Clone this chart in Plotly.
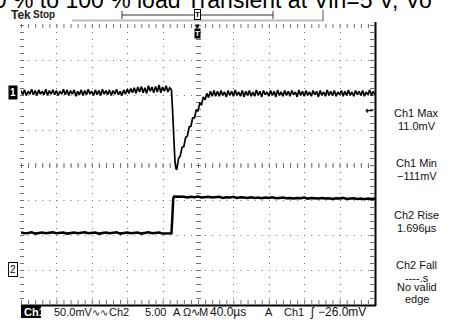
import numpy as np
import plotly.graph_objects as go

W, H = 451, 320
L, R, T, B = 21, 375, 25, 305  # graticule in pixels

# ---------------- data ----------------
# Ch1 (mV), 50 mV/div ; Ch2 (A), 5 A/div ; time in us, 40 us/div
ch1_pre = [2, -4, 3, -5, 1, -3, 4, -4, 2, -5, 3, -3, 1, -4, 4, -5, 2, -3, 3, -4, 2,
           -5, 1, -3, 4, -4, 3, -5, 2, -3, 3, -6, 1, -4, 3, -5, 2, -4, 4, -3, 1,
           -5, 3, -4, 2, -5, 4, -3, 2, -4, 3, -5, 2, -3, 4, -4, 1, -5, 3, -3, 4,
           -2, 5, -1, 6, -2, 7, 0, 8, -1, 6, -2, 9, 1, 7, -1, 8, 0, 10, -1, 7, 1, 9, 0, 6]
ch1_edge_t = [170, 171, 172, 173, 174, 175, 176]
ch1_edge = [3, -20, -50, -80, -100, -109, -111]
ch1_rec = [-95, -91, -79, -78, -65, -63, -50, -49, -37, -37, -26, -27, -16, -18,
           -7, -11, -2, -8, 1, -6, 2, -6]
ch1_post = [1, -6, 2, -5, 0, -7, 2, -5, 1, -6, 3, -5, 0, -6, 2, -7, 1, -5, 2, -6,
            0, -6, 3, -5, 1, -7, 2, -4, 0, -6, 2, -5, 1, -7, 3, -5, 0, -6, 2, -5,
            1, -6, 2, -4, 0, -7, 3, -5, 1, -6, 2, -5, 0, -6, 2, -4, 1, -7, 2, -5,
            0, -6, 3, -5, 1, -5, 2, -6, 0, -4, 2, -6, 1, -5, 3, -5, 0, -6, 2, -4,
            1, -5, 2, -6, 0, -4, 3, -5, 1, -4]

ch2_pre = [5.35, 5.25, 5.3, 5.4, 5.2, 5.3, 5.35, 5.25, 5.3, 5.4, 5.25, 5.3, 5.35, 5.2,
           5.3, 5.35, 5.25, 5.3, 5.4, 5.25, 5.3, 5.35, 5.2, 5.3, 5.35, 5.25, 5.3, 5.4,
           5.2, 5.3, 5.35, 5.25, 5.3, 5.35, 5.2, 5.3, 5.4, 5.25, 5.3, 5.35, 5.2, 5.25, 5.2]
ch2_edge_t = [170, 171, 172, 173]
ch2_edge = [5.25, 7.5, 10.2, 10.5]
ch2_post = [10.5, 10.4, 10.45, 10.35, 10.45, 10.4, 10.5, 10.35, 10.4, 10.45,
            10.35, 10.4, 10.45, 10.3, 10.4, 10.35, 10.45, 10.3, 10.4, 10.35,
            10.3, 10.4, 10.3, 10.35, 10.25, 10.35, 10.3, 10.4, 10.25, 10.3,
            10.35, 10.25, 10.3, 10.2, 10.3, 10.25, 10.35, 10.2, 10.3, 10.25,
            10.2, 10.3, 10.2, 10.25, 10.15, 10.25, 10.2, 10.3, 10.15, 10.2,
            10.25, 10.15, 10.2, 10.1, 10.2, 10.15, 10.2]

t1 = (list(np.linspace(0, 168, len(ch1_pre))) + ch1_edge_t +
      list(np.linspace(178, 220, len(ch1_rec))) + list(np.linspace(222, 400, len(ch1_post))))
v1 = ch1_pre + ch1_edge + ch1_rec + ch1_post
t2 = list(np.linspace(0, 168, len(ch2_pre))) + ch2_edge_t + list(np.linspace(176, 400, len(ch2_post)))
v2 = ch2_pre + ch2_edge + ch2_post

title_text = "50 % to 100 % load Transient at Vin=5 V, Vo"
meas = [("Ch1 Max", "11.0mV"), ("Ch1 Min", "\u2212111mV"), ("Ch2 Rise", "1.696\u00b5s"),
        ("Ch2 Fall", "----.s")]

# ---------------- helpers (pixel -> paper) ----------------
def px(x):
    return (x - L) / (R - L)

def py(y):
    return (B - y) / (B - T)

fig = go.Figure()
fig.add_trace(go.Scatter(x=t1, y=v1, mode="lines", line=dict(color="black", width=1.7),
                         yaxis="y", hoverinfo="skip"))
fig.add_trace(go.Scatter(x=t2, y=v2, mode="lines", line=dict(color="black", width=2.5),
                         yaxis="y2", hoverinfo="skip"))

shapes = []
GRID = "#707070"
def seg(x0, y0, x1, y1, color, width, dash="solid", layer="below"):
    shapes.append(dict(type="line", xref="paper", yref="paper", x0=px(x0), x1=px(x1),
                       y0=py(y0), y1=py(y1), line=dict(color=color, width=width, dash=dash),
                       layer=layer))

DX = (R - L) / 50.0
DY = (B - T) / 40.0
dash_v = "1px,%.3fpx" % (DY - 1)
dash_h = "1px,%.3fpx" % (DX - 1)
# dotted graticule lines (aligned to pixel centres)
for i in range(1, 10):
    xx = round(L + i * (R - L) / 10) + 0.5
    seg(xx, T, xx, B, GRID, 1, dash_v)
for j in range(1, 8):
    yy = round(T + j * (B - T) / 8) + 0.5
    seg(L, yy, R, yy, GRID, 1, dash_h)
# center cross minor ticks
cx, cy = round(L + (R - L) / 2) + 0.5, round(T + (B - T) / 2) + 0.5
seg(L, cy, R, cy, GRID, 5, dash_h)
seg(cx, T, cx, B, GRID, 5, dash_v)
# edge ticks
seg(L, T + 1, R, T + 1, GRID, 4, dash_h)
seg(L, B - 3, R, B - 3, GRID, 4, dash_h)
seg(L + 1, T, L + 1, B, GRID, 4, dash_v)
seg(R - 3, T, R - 3, B, GRID, 4, dash_v)
# solid right / bottom borders
seg(R + 0.5, T - 3, R + 0.5, B + 1, "black", 2, layer="above")
seg(L, B + 0.5, R + 1, B + 0.5, "black", 2, layer="above")
# top record bar
seg(72, 20.5, 323, 20.5, "#bdbdbd", 2)
seg(122, 15, 273, 15, "#333", 1)
seg(122, 11, 122, 19, "#333", 1)
seg(273, 11, 273, 19, "#333", 1)
seg(323, 10, 323, 21, "#555", 1)
# status-bar Ch1 box
shapes.append(dict(type="rect", xref="paper", yref="paper", x0=px(21), x1=px(41), y0=py(306), y1=py(318),
                   fillcolor="black", line=dict(width=0)))
fig.update_layout(shapes=shapes)

ann = []
F = "Liberation Sans, Arial, sans-serif"
def text(t, x, y, size, color="#222", xa="center", ya="middle", family=F, **kw):
    ann.append(dict(text=t, x=px(x), y=py(y), xref="paper", yref="paper", xanchor=xa,
                    yanchor=ya, showarrow=False, font=dict(family=family, size=size, color=color), **kw))

text(title_text, -21, 15, 23, "black", xa="left", ya="bottom")
text("<b>Tek</b>", 9, 15, 12, xa="left")
text("<b>Stop</b>", 31, 15, 10, xa="left")
# trigger position markers
text("<b>T</b>", 197, 15, 8, "black", bordercolor="black", borderwidth=1, borderpad=0, bgcolor="white")
text("\u25bc", 197, 27, 8, "black")
text("<b>T</b>", 197, 33, 8, "white", bgcolor="black", borderpad=0)
# channel markers
text("<b>1</b>", 13, 92, 10, "white", bgcolor="black", borderpad=1)
text("2", 13, 269, 10, "black", bgcolor="white", bordercolor="black", borderwidth=1, borderpad=1)
text("<b>\u2190</b>", 375, 110, 10, "black", xa="right", family="DejaVu Sans")
# measurements
ys = [113, 163, 215, 265]
for (a, b), yy in zip(meas, ys):
    text(a, 417, yy, 11, "#111")
    text(b, 417, yy + 13, 11, "#111")
text("No valid", 417, 287, 11, "#111")
text("edge", 417, 299, 11, "#111")
# status bar
status = [(22, "<b>Ch1</b>", "white", 11), (52, "50.0mV", "#111", 11), (90, "\u223f\u223f", "#111", 10),
          (107, "Ch2", "#111", 11), (143, "5.00", "#111", 11), (171, "A", "#111", 11),
          (181, "\u03a9\u223f", "#111", 11), (197, "M", "#111", 11), (208, "40.0\u00b5s", "#111", 12),
          (263, "A", "#111", 11), (282, "Ch1", "#111", 11), (308, "\u0283", "#111", 12),
          (316, "\u221226.0mV", "#111", 12)]
for xx, tx, col, sz in status:
    text(tx, xx, 312, sz, col, xa="left")
fig.update_layout(annotations=ann)

fig.update_layout(
    width=W, height=H, margin=dict(l=L, r=W - R, t=T, b=H - B, pad=0),
    paper_bgcolor="white", plot_bgcolor="white", showlegend=False,
    xaxis=dict(range=[0, 400], visible=False, fixedrange=True),
    yaxis=dict(range=[-304.3, 95.7], visible=False, fixedrange=True),
    yaxis2=dict(range=[-5, 35], visible=False, overlaying="y", fixedrange=True),
)
fig.write_html("out.html", config={"displayModeBar": False})
